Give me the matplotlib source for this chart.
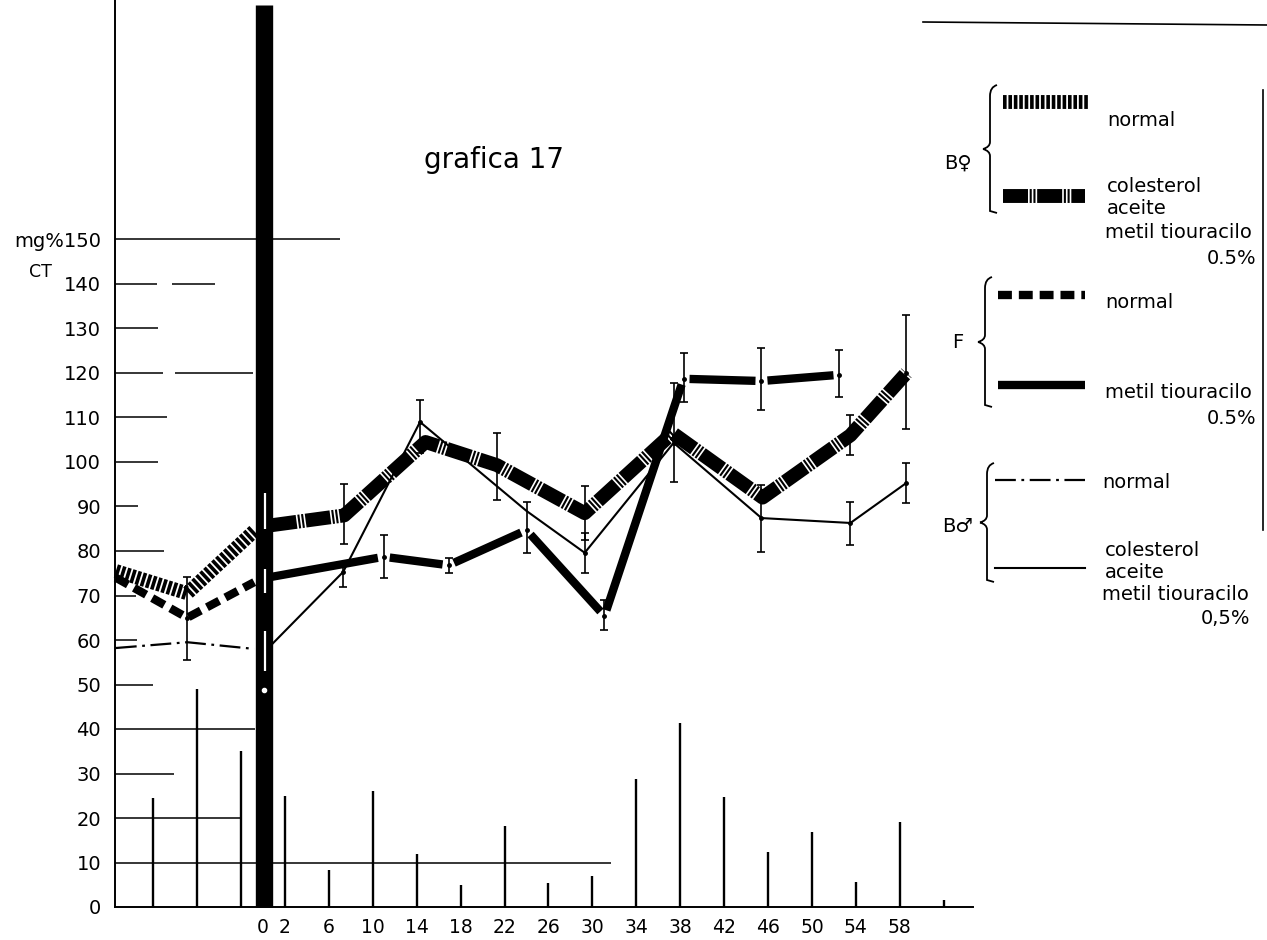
import matplotlib
matplotlib.use("Agg")
import matplotlib.pyplot as plt
from matplotlib.path import Path
from matplotlib.patches import PathPatch
import numpy as np

plt.rcParams['font.family'] = ['DejaVu Sans']
plt.rcParams['lines.scale_dashes'] = False

nan = np.nan

# ---------------- data ----------------
x_tick_values = [0, 2, 6, 10, 14, 18, 22, 26, 30, 34, 38, 42, 46, 50, 54, 58]
x_tick_labels = [str(v) for v in x_tick_values]
y_tick_values = list(range(0, 151, 10))
y_tick_labels = [str(v) for v in y_tick_values[:-1]] + ["mg%150"]

spike_x = [-10, -6, -2, 2, 6, 10, 14, 18, 22, 26, 30, 34, 38, 42, 46, 50, 54, 58, 62]
spike_h = [24.5, 49, 35, 25, 8.3, 26, 12, 5, 18.2, 5.4, 7, 28.8, 41.3, 24.7, 12.4, 16.9, 5.6, 19.1, 1.6]

grid_y = [150, 140, 140, 130, 120, 120, 110, 100, 90, 80, 70, 60, 50, 40, 30, 20, 10]
grid_x0 = [-13.5, -13.5, -8.3, -13.5, -13.5, -8.0, -13.5, -13.4, -13.5, -13.5, -13.5, -13.5, -13.5,
           -13.5, -13.5, -13.5, -13.5]
grid_x1 = [7.0, -9.65, -4.4, -9.6, -9.1, -0.9, -8.7, -9.6, -11.4, -9.0, -11.6, -11.5, -10.0,
           -0.7, -8.1, -1.9, 31.7]

# before day 0 (normal diets)
pre_x = [-13.4, -6.9, -0.8]
bf_normal_y = [75.5, 70.5, 84.5]
f_normal_y = [74, 65, 73]
bm_normal_y = [58.2, 59.5, 58]
f_normal_lo = [nan, 55.5, nan]
f_normal_hi = [nan, 74.2, nan]

# after day 0
bf_chol_x = [0.8, 7.4, 14.8, 21.3, 29.3, 37.3, 45.5, 53.5, 58.6]
bf_chol_y = [85.8, 88, 104.5, 99.3, 88.5, 106.5, 92, 106, 120]
bf_chol_lo = [nan, 81.5, nan, 91.5, 82.5, nan, nan, 101.6, 107.5]
bf_chol_hi = [nan, 95, nan, 106.5, 94.5, nan, nan, 110.6, 133]

f_mt_x = [0.8, 11.0, 16.9, 24.0, 31.1, 38.3, 45.4, 52.5]
f_mt_y = [74.2, 78.7, 76.8, 84.7, 65.4, 118.7, 118.2, 119.6]
f_mt_lo = [nan, 74, 75, 79.6, 62.2, 113.5, 111.7, 114.6]
f_mt_hi = [nan, 83.5, 78.4, 91, 69, 124.5, 125.6, 125.2]

bm_chol_x = [0.8, 7.3, 14.3, 24.0, 29.3, 37.4, 45.4, 53.5, 58.6]
bm_chol_y = [59, 75.3, 109, 89, 79.6, 104.3, 87.4, 86.3, 95.3]
bm_chol_lo = [nan, 71.9, 102, nan, 75, 95.5, 79.8, 81.3, 90.8]
bm_chol_hi = [nan, 76.9, 114, nan, 84, 117.8, 94.8, 91, 99.8]

# white error marks drawn on the day-0 bar
bar0_lo = [85, 70.5, 53]
bar0_hi = [93, 76, 62]
bar0_height = 202.7

# ---------------- styles ----------------
ST_BF_NORMAL = dict(color='black', lw=10, dashes=(2.6, 1.3), dash_capstyle='butt', solid_capstyle='butt')
ST_BF_CHOL = dict(color='black', lw=10, dashes=(18, 1.2, 1.5, 1.2, 1.5, 1.2), dash_capstyle='butt')
ST_F_NORMAL = dict(color='black', lw=6, dashes=(10, 5), dash_capstyle='butt')
ST_F_MT = dict(color='black', lw=6, solid_capstyle='butt')
ST_BM_NORMAL = dict(color='black', lw=1.6, dashes=(15, 4, 2, 4))
ST_BM_CHOL = dict(color='black', lw=1.5)

W, H = 1267, 940
fig = plt.figure(figsize=(W / 100, H / 100), dpi=100)

px_per_x = 10.98
x0_px = 263
ax_left_px, ax_right_px = 115, 973
y0_px = 907
px_per_y = 4.45

ax = fig.add_axes([ax_left_px / W, (H - y0_px) / H, (ax_right_px - ax_left_px) / W, y0_px / H])
ax.set_xlim((ax_left_px - x0_px) / px_per_x, (ax_right_px - x0_px) / px_per_x)
ax.set_ylim(0, y0_px / px_per_y)
for s in ['top', 'right']:
    ax.spines[s].set_visible(False)
for s in ['left', 'bottom']:
    ax.spines[s].set_linewidth(1.4)
ax.set_xticks(x_tick_values)
ax.set_xticklabels(x_tick_labels, fontsize=13.5)
ax.set_yticks(y_tick_values)
ax.set_yticklabels(y_tick_labels, fontsize=14)
ax.tick_params(axis='x', length=0, pad=8)
ax.tick_params(axis='y', length=0, pad=10)

# partial horizontal guide lines
ax.hlines(grid_y, grid_x0, grid_x1, color='black', lw=1.1)

# vertical spikes
ax.vlines(spike_x, 0, spike_h, color='black', lw=1.7)

# day-0 bar
ax.vlines([0.05], 0, bar0_height, color='black', lw=12.5, clip_on=False)
ax.vlines([0.15] * len(bar0_lo), bar0_lo, bar0_hi, color='white', lw=1.6, zorder=6)
ax.plot([0.1], [48.8], 'o', color='white', ms=3, zorder=6)


def gapped_plot(xs, ys, lo, gap_px, style, zorder=3):
    """Plot a polyline whose segments stop short of points carrying an error bar."""
    xs = np.asarray(xs, float)
    ys = np.asarray(ys, float)
    has = ~np.isnan(np.asarray(lo, float))
    for i in range(len(xs) - 1):
        p0 = np.array([xs[i] * px_per_x, ys[i] * px_per_y])
        p1 = np.array([xs[i + 1] * px_per_x, ys[i + 1] * px_per_y])
        d = p1 - p0
        L = np.hypot(*d)
        u = d / L
        a = p0 + u * (gap_px if has[i] else 0)
        b = p1 - u * (gap_px if has[i + 1] else 0)
        ax.plot([a[0] / px_per_x, b[0] / px_per_x], [a[1] / px_per_y, b[1] / px_per_y],
                zorder=zorder, **style)


# series lines
ax.plot(bf_chol_x, bf_chol_y, zorder=3, **ST_BF_CHOL)
gapped_plot(f_mt_x, f_mt_y, f_mt_lo, 6, ST_F_MT)
ax.plot(pre_x, bf_normal_y, zorder=3, clip_on=False, **ST_BF_NORMAL)
ax.plot(pre_x, f_normal_y, zorder=3, clip_on=False, **ST_F_NORMAL)
ax.plot(pre_x, bm_normal_y, zorder=4, clip_on=False, **ST_BM_NORMAL)
ax.plot(bm_chol_x, bm_chol_y, zorder=4, **ST_BM_CHOL)


def draw_err(xs, ys, lo, hi):
    xs, ys, lo, hi = map(np.asarray, (xs, ys, lo, hi))
    m = ~np.isnan(lo)
    ax.errorbar(xs[m], ys[m], yerr=[ys[m] - lo[m], hi[m] - ys[m]], fmt='o', ms=2.5,
                color='black', ecolor='black', elinewidth=1.2, capsize=3, capthick=1.2, zorder=5)


draw_err(pre_x, f_normal_y, f_normal_lo, f_normal_hi)
draw_err(bf_chol_x, bf_chol_y, bf_chol_lo, bf_chol_hi)
draw_err(f_mt_x, f_mt_y, f_mt_lo, f_mt_hi)
draw_err(bm_chol_x, bm_chol_y, bm_chol_lo, bm_chol_hi)

# ---------------- overlay (title, legend) in pixel space ----------------
lax = fig.add_axes([0, 0, 1, 1])
lax.set_xlim(0, W)
lax.set_ylim(H, 0)
lax.axis('off')

lax.text(494, 160, 'grafica 17', ha='center', va='center', fontsize=20)
lax.text(40, 272, 'CT', ha='center', va='center', fontsize=12.5)

lax.plot([923, 1267], [22, 25], color='black', lw=1.2)
lax.plot([1263, 1263], [90, 530], color='black', lw=1.2)


def brace(x, y0, y1, w=7):
    ym = (y0 + y1) / 2
    p = Path([(x + w, y0), (x, y0 + 2), (x, y0 + w + 4), (x, ym - w),
              (x, ym - 2), (x - w, ym), (x - w, ym),
              (x - w, ym), (x, ym + 2), (x, ym + w),
              (x, y1 - 2), (x + w, y1), (x + w, y1)],
             [Path.MOVETO, Path.CURVE3, Path.CURVE3, Path.LINETO,
              Path.CURVE3, Path.CURVE3, Path.LINETO,
              Path.MOVETO, Path.CURVE3, Path.CURVE3,
              Path.LINETO, Path.LINETO, Path.LINETO])
    lax.add_patch(PathPatch(p, fill=False, lw=1.3, color='black'))


FS = 14
# group B female
brace(990, 85, 213)
lax.text(958, 163, 'B\u2640', ha='center', va='center', fontsize=FS)
lax.plot([1003, 1088], [102, 102], **ST_BF_NORMAL)
lax.text(1107, 120, 'normal', ha='left', va='center', fontsize=FS)
lax.plot([1003, 1085], [196, 196], **ST_BF_CHOL)
lax.text(1107, 187, 'colesterol', ha='left', va='center', fontsize=FS)
lax.text(1107, 209, 'aceite', ha='left', va='center', fontsize=FS)
lax.text(1105, 233, 'metil tiouracilo', ha='left', va='center', fontsize=FS)
lax.text(1256, 258, '0.5%', ha='right', va='center', fontsize=FS)

# group F
brace(985, 277, 407)
lax.text(958, 343, 'F', ha='center', va='center', fontsize=FS)
lax.plot([998, 1085], [295, 295], **ST_F_NORMAL)
lax.text(1105, 302, 'normal', ha='left', va='center', fontsize=FS)
lax.plot([998, 1085], [385, 385], **ST_F_MT)
lax.text(1105, 393, 'metil tiouracilo', ha='left', va='center', fontsize=FS)
lax.text(1256, 418, '0.5%', ha='right', va='center', fontsize=FS)

# group B male
brace(987, 463, 582)
lax.text(958, 527, 'B\u2642', ha='center', va='center', fontsize=FS)
lax.plot([995, 1085], [480, 480], **ST_BM_NORMAL)
lax.text(1102, 482, 'normal', ha='left', va='center', fontsize=FS)
lax.text(1105, 551, 'colesterol', ha='left', va='center', fontsize=FS)
lax.plot([995, 1085], [568, 568], **ST_BM_CHOL)
lax.text(1105, 573, 'aceite', ha='left', va='center', fontsize=FS)
lax.text(1102, 595, 'metil tiouracilo', ha='left', va='center', fontsize=FS)
lax.text(1250, 618, '0,5%', ha='right', va='center', fontsize=FS)

fig.savefig('out.png', dpi=100)
